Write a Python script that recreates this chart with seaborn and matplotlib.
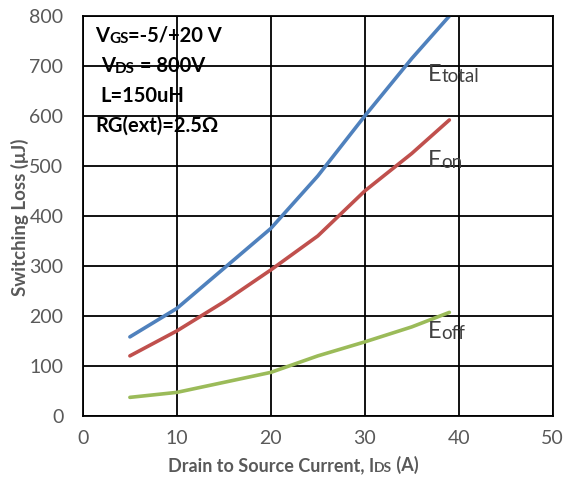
import numpy as np
import pandas as pd
import matplotlib
matplotlib.use("Agg")
import matplotlib.pyplot as plt
import seaborn as sns

# values
ids = [5, 10, 15, 20, 25, 30, 35, 39]
e_total = [158, 215, 295, 375, 480, 600, 715, 800]
e_on = [120, 170, 228, 292, 360, 450, 525, 592]
e_off = [37, 47, 67, 87, 120, 148, 178, 207]

series_names = ["Etotal", "Eon", "Eoff"]
series_colors = ["#4F81BD", "#C0504D", "#9BBB59"]

df = pd.DataFrame({
    "ids": ids * 3,
    "loss": e_total + e_on + e_off,
    "curve": sum([[n] * len(ids) for n in series_names], []),
})

sns.set_style("white")
plt.rcParams["font.family"] = ["Lato", "DejaVu Sans"]

fig = plt.figure(figsize=(5.64, 4.78), dpi=100)
ax = fig.add_axes([0.147, 0.130, 0.833, 0.8365])

sns.lineplot(data=df, x="ids", y="loss", hue="curve", palette=series_colors,
             hue_order=series_names, linewidth=2.6, legend=False, ax=ax)

ax.set_xlim(0, 50)
ax.set_ylim(0, 800)
ax.set_xticks(np.arange(0, 51, 10))
ax.set_yticks(np.arange(0, 801, 100))
ax.grid(True, color="black", linewidth=1.3)
ax.set_axisbelow(True)
for s in ax.spines.values():
    s.set_color("black")
    s.set_linewidth(1.3)
ax.tick_params(axis="y", labelsize=14, labelcolor="#595959", length=0, pad=14)
ax.tick_params(axis="x", labelsize=14, labelcolor="#595959", length=0, pad=10)

gray = "#595959"


def mixed(x, y, parts, color, weight, coords):
    """draw text pieces side by side, each with its own size"""
    prev = None
    for txt, size in parts:
        if prev is None:
            prev = ax.text(x, y, txt, fontsize=size, color=color, fontweight=weight,
                           transform=coords, va="baseline", ha="left")
        else:
            prev = ax.annotate(txt, xy=(1, 0), xycoords=prev, fontsize=size,
                               color=color, fontweight=weight, va="bottom", ha="left")
    return prev


# axis titles built from pieces (small caps subscripts)
ax.set_ylabel("")
ax.set_xlabel("")
fig_tr = fig.transFigure
fig.text(20 / 564, 1 - 217 / 478, "Switching Loss (μJ)", rotation=90, fontsize=13.5,
         fontweight="bold", color=gray, ha="center", va="center")
mixed(168 / 564, 1 - 471 / 478, [("Drain to Source Current, I", 13), ("DS", 10), (" (A)", 13)],
      gray, "bold", fig_tr)

# condition block
mixed(95 / 564, 1 - 42 / 478, [("V", 14.5), ("GS", 11), ("=-5/+20 V", 14.5)], "black", "bold", fig_tr)
mixed(101 / 564, 1 - 72 / 478, [("V", 14.5), ("DS", 11), (" = 800V", 14.5)], "black", "bold", fig_tr)
mixed(100 / 564, 1 - 102 / 478, [("L=150uH", 14.5)], "black", "bold", fig_tr)
mixed(95 / 564, 1 - 132 / 478, [("RG(ext)=2.5Ω", 14.5)], "black", "bold", fig_tr)

# curve labels
label_color = "#404040"
mixed(428 / 564, 1 - 81 / 478, [("E", 17), ("total", 13.5)], label_color, "normal", fig_tr)
mixed(428 / 564, 1 - 167 / 478, [("E", 17), ("on", 13.5)], label_color, "normal", fig_tr)
mixed(428 / 564, 1 - 338 / 478, [("E", 17), ("off", 13.5)], label_color, "normal", fig_tr)

fig.savefig("out.png", dpi=100)
